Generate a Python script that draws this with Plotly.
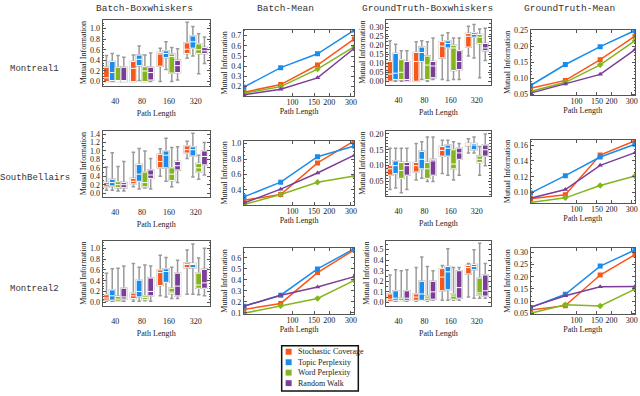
import plotly.graph_objects as go

path_lengths = [40, 80, 160, 320]
path_labels = ["40", "80", "160", "320"]
methods = ["Stochastic Coverage", "Topic Perplexity", "Word Perplexity", "Random Walk"]
colors = ["#F9561A", "#1A8CEC", "#84B51C", "#7B3E98"]
symbols = ["square", "square", "diamond", "triangle-up"]
row_names = ["Montreal1", "SouthBellairs", "Montreal2"]
col_titles = ["Batch-Boxwhiskers", "Batch-Mean", "GroundTruth-Boxwhiskers", "GroundTruth-Mean"]

# box stats per path length: (lower whisker, q1, median, q3, upper whisker)
montreal1_batch_box = {
    "Stochastic Coverage": [(0.00, 0.00, 0.07, 0.27, 0.49), (0.00, 0.00, 0.25, 0.38, 0.50), (0.00, 0.29, 0.52, 0.55, 0.63), (0.44, 0.53, 0.61, 0.73, 1.12)],
    "Topic Perplexity": [(0.00, 0.02, 0.17, 0.38, 0.53), (0.02, 0.30, 0.42, 0.50, 0.67), (0.23, 0.45, 0.53, 0.58, 0.75), (0.48, 0.63, 0.75, 0.86, 1.04)],
    "Word Perplexity": [(0.00, 0.00, 0.02, 0.27, 0.49), (0.00, 0.00, 0.20, 0.28, 0.50), (0.00, 0.16, 0.47, 0.52, 0.64), (0.15, 0.53, 0.60, 0.71, 0.90)],
    "Random Walk": [(0.00, 0.00, 0.02, 0.27, 0.46), (0.00, 0.03, 0.17, 0.27, 0.54), (0.03, 0.17, 0.30, 0.40, 0.62), (0.34, 0.53, 0.58, 0.64, 0.84)],
}
montreal1_truth_box = {
    "Stochastic Coverage": [(0.000, 0.000, 0.040, 0.110, 0.225), (0.000, 0.000, 0.110, 0.160, 0.220), (0.010, 0.130, 0.195, 0.220, 0.255), (0.140, 0.190, 0.250, 0.265, 0.305)],
    "Topic Perplexity": [(0.000, 0.010, 0.045, 0.155, 0.205), (0.010, 0.110, 0.160, 0.190, 0.225), (0.005, 0.185, 0.210, 0.225, 0.270), (0.130, 0.245, 0.260, 0.270, 0.315)],
    "Word Perplexity": [(0.000, 0.010, 0.050, 0.120, 0.170), (0.000, 0.010, 0.090, 0.140, 0.220), (0.010, 0.060, 0.185, 0.200, 0.240), (0.020, 0.210, 0.245, 0.260, 0.290)],
    "Random Walk": [(0.000, 0.000, 0.010, 0.110, 0.170), (0.010, 0.020, 0.085, 0.110, 0.240), (0.010, 0.065, 0.110, 0.170, 0.240), (0.115, 0.170, 0.185, 0.210, 0.295)],
}
southbellairs_batch_box = {
    "Stochastic Coverage": [(0.07, 0.15, 0.20, 0.25, 0.62), (0.15, 0.22, 0.28, 0.35, 0.97), (0.40, 0.60, 0.75, 0.92, 1.05), (0.82, 0.95, 1.03, 1.12, 1.23)],
    "Topic Perplexity": [(0.07, 0.17, 0.25, 0.33, 0.96), (0.10, 0.28, 0.45, 0.68, 1.06), (0.28, 0.60, 0.90, 1.00, 1.30), (0.38, 0.88, 1.03, 1.10, 1.42)],
    "Word Perplexity": [(0.05, 0.13, 0.20, 0.27, 0.63), (0.12, 0.15, 0.25, 0.50, 1.00), (0.15, 0.30, 0.45, 0.60, 1.08), (0.33, 0.50, 0.60, 0.70, 0.90)],
    "Random Walk": [(0.05, 0.13, 0.20, 0.25, 0.75), (0.10, 0.35, 0.43, 0.55, 0.82), (0.25, 0.55, 0.65, 0.75, 1.10), (0.43, 0.67, 0.87, 1.00, 1.20)],
}
southbellairs_truth_box = {
    "Stochastic Coverage": [(0.025, 0.070, 0.090, 0.100, 0.155), (0.055, 0.080, 0.100, 0.110, 0.170), (0.075, 0.130, 0.148, 0.160, 0.180), (0.140, 0.163, 0.167, 0.170, 0.185)],
    "Topic Perplexity": [(0.030, 0.075, 0.100, 0.115, 0.155), (0.060, 0.090, 0.120, 0.145, 0.175), (0.070, 0.130, 0.155, 0.165, 0.180), (0.140, 0.150, 0.165, 0.170, 0.190)],
    "Word Perplexity": [(0.015, 0.060, 0.085, 0.110, 0.155), (0.050, 0.060, 0.090, 0.110, 0.190), (0.055, 0.090, 0.105, 0.150, 0.175), (0.070, 0.110, 0.120, 0.130, 0.160)],
    "Random Walk": [(0.025, 0.070, 0.100, 0.110, 0.155), (0.050, 0.070, 0.115, 0.120, 0.190), (0.070, 0.120, 0.140, 0.155, 0.170), (0.100, 0.130, 0.150, 0.165, 0.200)],
}
montreal2_batch_box = {
    "Stochastic Coverage": [(0.02, 0.04, 0.08, 0.14, 0.54), (0.02, 0.07, 0.12, 0.17, 0.72), (0.12, 0.31, 0.55, 0.60, 0.87), (0.15, 0.64, 0.70, 0.73, 0.97)],
    "Topic Perplexity": [(0.02, 0.04, 0.12, 0.23, 0.62), (0.02, 0.10, 0.20, 0.41, 0.65), (0.10, 0.37, 0.57, 0.62, 0.83), (0.15, 0.64, 0.70, 0.72, 1.08)],
    "Word Perplexity": [(0.02, 0.02, 0.06, 0.11, 0.63), (0.03, 0.05, 0.09, 0.12, 0.69), (0.07, 0.16, 0.19, 0.26, 0.65), (0.14, 0.26, 0.32, 0.54, 0.82)],
    "Random Walk": [(0.02, 0.06, 0.10, 0.26, 0.67), (0.02, 0.12, 0.20, 0.45, 0.67), (0.07, 0.12, 0.30, 0.54, 0.78), (0.12, 0.26, 0.36, 0.61, 1.00)],
}
montreal2_truth_box = {
    "Stochastic Coverage": [(0.01, 0.01, 0.03, 0.08, 0.26), (0.01, 0.02, 0.05, 0.08, 0.33), (0.02, 0.11, 0.24, 0.32, 0.35), (0.05, 0.27, 0.33, 0.35, 0.37)],
    "Topic Perplexity": [(0.01, 0.02, 0.04, 0.11, 0.31), (0.02, 0.02, 0.08, 0.20, 0.43), (0.02, 0.12, 0.29, 0.34, 0.51), (0.04, 0.31, 0.34, 0.36, 0.50)],
    "Word Perplexity": [(0.01, 0.01, 0.02, 0.04, 0.30), (0.01, 0.02, 0.04, 0.06, 0.34), (0.02, 0.03, 0.06, 0.08, 0.33), (0.04, 0.07, 0.09, 0.23, 0.56)],
    "Random Walk": [(0.01, 0.02, 0.04, 0.11, 0.31), (0.02, 0.03, 0.10, 0.20, 0.30), (0.02, 0.04, 0.14, 0.30, 0.33), (0.04, 0.06, 0.11, 0.26, 0.37)],
}

# mean mutual information per path length
montreal1_batch_mean = {
    "Stochastic Coverage": [0.145, 0.220, 0.412, 0.668],
    "Topic Perplexity": [0.195, 0.386, 0.522, 0.755],
    "Word Perplexity": [0.135, 0.200, 0.372, 0.592],
    "Random Walk": [0.120, 0.175, 0.286, 0.576],
}
montreal1_truth_mean = {
    "Stochastic Coverage": [0.068, 0.093, 0.158, 0.232],
    "Topic Perplexity": [0.077, 0.143, 0.199, 0.250],
    "Word Perplexity": [0.058, 0.087, 0.142, 0.218],
    "Random Walk": [0.053, 0.082, 0.112, 0.190],
}
southbellairs_batch_mean = {
    "Stochastic Coverage": [0.267, 0.340, 0.750, 1.035],
    "Topic Perplexity": [0.310, 0.500, 0.830, 0.970],
    "Word Perplexity": [0.210, 0.340, 0.500, 0.580],
    "Random Walk": [0.230, 0.410, 0.620, 0.850],
}
southbellairs_truth_mean = {
    "Stochastic Coverage": [0.0925, 0.0975, 0.1475, 0.1655],
    "Topic Perplexity": [0.0995, 0.1215, 0.1450, 0.1610],
    "Word Perplexity": [0.0875, 0.0935, 0.1090, 0.1210],
    "Random Walk": [0.0930, 0.1040, 0.1345, 0.1505],
}
montreal2_batch_mean = {
    "Stochastic Coverage": [0.130, 0.185, 0.467, 0.675],
    "Topic Perplexity": [0.160, 0.260, 0.500, 0.685],
    "Word Perplexity": [0.095, 0.165, 0.230, 0.395],
    "Random Walk": [0.160, 0.260, 0.335, 0.430],
}
montreal2_truth_mean = {
    "Stochastic Coverage": [0.063, 0.081, 0.207, 0.291],
    "Topic Perplexity": [0.073, 0.128, 0.244, 0.310],
    "Word Perplexity": [0.050, 0.085, 0.080, 0.149],
    "Random Walk": [0.075, 0.122, 0.159, 0.160],
}

W, H = 640, 396
SERIF = "Liberation Serif"
MONO = "Liberation Mono"
FRAME = "#555555"
TEXT = "#222222"
BOX_W = 0.215  # width of one box, in category units

col_x = [(103, 211), (245, 356), (388, 493), (533, 638)]
row_y = [
    [(17, 84), (27, 95), (17, 83), (27, 94)],
    [(130, 197), (140, 206), (130, 196), (139, 204)],
    [(242, 308), (249, 317), (242, 308), (249, 317)],
]

panels = [
    # (row, col, kind, data, y range, y ticks, tick format)
    (0, 0, "box", montreal1_batch_box, [-0.074, 1.166], [0, 0.2, 0.4, 0.6, 0.8, 1.0], ".1f"),
    (0, 1, "mean", montreal1_batch_mean, [0.105, 0.76], [0.2, 0.3, 0.4, 0.5, 0.6, 0.7], ".1f"),
    (0, 2, "box", montreal1_truth_box, [-0.018, 0.342], [0, 0.05, 0.1, 0.15, 0.2, 0.25, 0.3], ".2f"),
    (0, 3, "mean", montreal1_truth_mean, [0.046, 0.253], [0.05, 0.1, 0.15, 0.2, 0.25], ".2f"),
    (1, 0, "box", southbellairs_batch_box, [-0.08, 1.48], [0, 0.2, 0.4, 0.6, 0.8, 1.0, 1.2, 1.4], ".1f"),
    (1, 1, "mean", southbellairs_batch_mean, [0.2, 1.04], [0.4, 0.6, 0.8, 1.0], ".1f"),
    (1, 2, "box", southbellairs_truth_box, [0.006, 0.21], [0.05, 0.1, 0.15, 0.2], ".2f"),
    (1, 3, "mean", southbellairs_truth_mean, [0.0865, 0.167], [0.10, 0.12, 0.14, 0.16], ".2f"),
    (2, 0, "box", montreal2_batch_box, [-0.06, 1.14], [0, 0.2, 0.4, 0.6, 0.8, 1.0], ".1f"),
    (2, 1, "mean", montreal2_batch_mean, [0.085, 0.695], [0.1, 0.2, 0.3, 0.4, 0.5, 0.6], ".1f"),
    (2, 2, "box", montreal2_truth_box, [-0.03, 0.585], [0, 0.1, 0.2, 0.3, 0.4, 0.5], ".1f"),
    (2, 3, "mean", montreal2_truth_mean, [0.045, 0.32], [0.05, 0.1, 0.15, 0.2, 0.25, 0.3], ".2f"),
]

fig = go.Figure()
layout = {}

for i, (r, c, kind, data, yrange, yticks, fmt) in enumerate(panels, start=1):
    xa, ya = f"x{i}", f"y{i}"
    for j, (m, color, sym) in enumerate(zip(methods, colors, symbols)):
        if kind == "box":
            stats = data[m]
            lo = [s[0] for s in stats]
            q1 = [s[1] for s in stats]
            med = [s[2] for s in stats]
            q3 = [s[3] for s in stats]
            hi = [s[4] for s in stats]
            # boxes of one path length sit side by side around the category
            pos = [k + (j - 1.5) * BOX_W for k in range(len(path_labels))]
            # gray whiskers underneath
            fig.add_trace(go.Box(
                x=pos, q1=q1, median=med, q3=q3, lowerfence=lo, upperfence=hi,
                width=BOX_W, line=dict(color="#9a9a9a", width=1.5),
                fillcolor="rgba(0,0,0,0)", whiskerwidth=0.6,
                xaxis=xa, yaxis=ya, showlegend=False, hoverinfo="skip",
            ))
            # coloured box with white median on top
            fig.add_trace(go.Box(
                x=pos, q1=q1, median=med, q3=q3, lowerfence=q1, upperfence=q3,
                width=BOX_W, line=dict(color="white", width=1), fillcolor=color,
                whiskerwidth=0, xaxis=xa, yaxis=ya, showlegend=False, name=m,
            ))
        else:
            fig.add_trace(go.Scatter(
                x=path_lengths, y=data[m], mode="lines+markers", name=m,
                line=dict(color=color, width=1.5),
                marker=dict(symbol=sym, size=5, color=color),
                xaxis=xa, yaxis=ya, showlegend=False,
            ))

    x0, x1 = col_x[c]
    y0, y1 = row_y[r][c]
    suffix = "" if i == 1 else str(i)
    common = dict(
        showline=True, linecolor=FRAME, linewidth=1, mirror="ticks",
        ticks="inside", ticklen=3, tickcolor=FRAME, showgrid=False, zeroline=False,
        tickfont=dict(family=SERIF, size=8, color=TEXT),
    )
    xaxis = dict(common, domain=[x0 / W, x1 / W], anchor=ya,
                 title=dict(text="Path Length", font=dict(family=SERIF, size=8, color=TEXT)))
    if kind == "box":
        xaxis.update(type="linear", range=[-0.47, 3.53], tickvals=list(range(len(path_labels))),
                     ticktext=path_labels, ticks="", ticklabelstandoff=8, title_standoff=5)
    else:
        xaxis.update(type="log", range=[1.60206, 2.50515], tickvals=[100, 150, 200, 300],
                     ticktext=["100", "150", "200", "300"], ticklabelstandoff=-2,
                     title_standoff=1)
    yaxis = dict(common, domain=[1 - y1 / H, 1 - y0 / H], anchor=xa, range=yrange,
                 tickvals=yticks, tickformat=fmt,
                 minor=dict(ticks="inside", ticklen=1.5, nticks=5, tickcolor=FRAME),
                 title=dict(text="Mutual Information", standoff=2,
                            font=dict(family=SERIF, size=8, color=TEXT)))
    layout["xaxis" + suffix] = xaxis
    layout["yaxis" + suffix] = yaxis

annotations = []
title_x = [145, 287, 430, 572]
for t, tx in zip(col_titles, title_x):
    annotations.append(dict(text=t, x=tx / W, y=1 - 6 / H, xref="paper", yref="paper",
                            xanchor="center", yanchor="middle", showarrow=False,
                            font=dict(family=MONO, size=9.5, color="#333")))
row_label_y = [67, 178, 291]
for name, ry in zip(row_names, row_label_y):
    annotations.append(dict(text=name, x=35 / W, y=1 - ry / H, xref="paper", yref="paper",
                            xanchor="center", yanchor="middle", showarrow=False,
                            font=dict(family=MONO, size=9, color="#333")))

# legend box drawn by hand (plotly's legend rows are too tall here)
shapes = [dict(type="rect", xref="paper", yref="paper", x0=283 / W, x1=360 / W,
               y0=1 - 395 / H, y1=1 - 349 / H, line=dict(color="#111", width=1.5),
               fillcolor="white")]
legend_y = [355, 365.7, 376.3, 387]
for m, color, ly in zip(methods, colors, legend_y):
    shapes.append(dict(type="rect", xref="paper", yref="paper", x0=287 / W, x1=293 / W,
                       y0=1 - (ly + 3) / H, y1=1 - (ly - 3) / H,
                       line=dict(width=0), fillcolor=color))
    annotations.append(dict(text=m, x=297 / W, y=1 - ly / H, xref="paper", yref="paper",
                            xanchor="left", yanchor="middle", showarrow=False,
                            font=dict(family=SERIF, size=8, color=TEXT)))

fig.update_layout(
    **layout,
    width=W, height=H,
    margin=dict(l=0, r=0, t=0, b=0),
    paper_bgcolor="white", plot_bgcolor="white",
    boxmode="overlay",
    annotations=annotations,
    shapes=shapes,
    showlegend=False,
)

fig.write_html("out.html", config={"displayModeBar": False},
               post_script="document.body.style.margin='0';")
